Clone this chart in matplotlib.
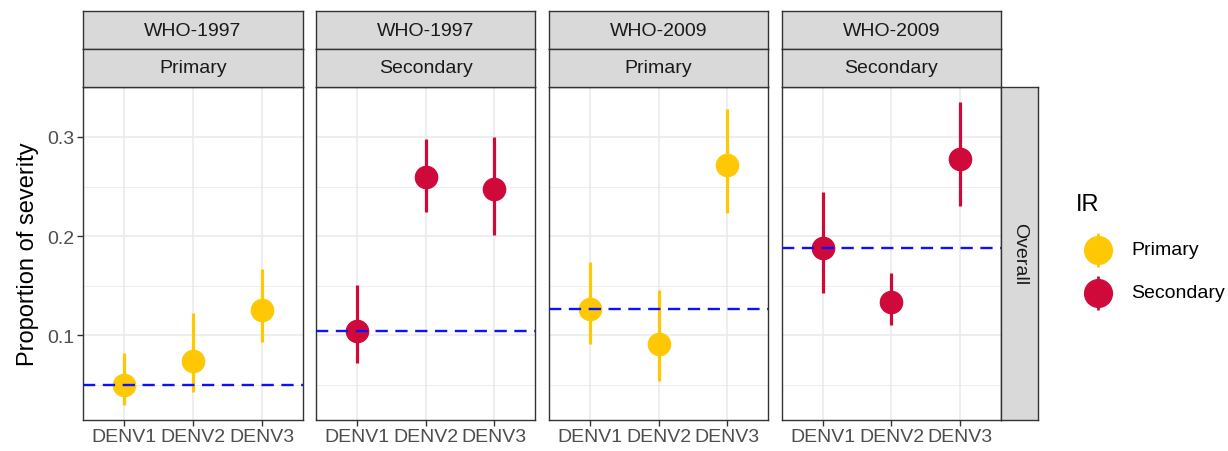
import matplotlib
matplotlib.use("Agg")
import matplotlib.pyplot as plt
import numpy as np

# ---------------- data ----------------
serotypes = ["DENV1", "DENV2", "DENV3"]
panel_definition = ["WHO-1997", "WHO-1997", "WHO-2009", "WHO-2009"]
panel_ir = ["Primary", "Secondary", "Primary", "Secondary"]
row_label = "Overall"

est_1997_primary = [0.050, 0.074, 0.126]
lo_1997_primary = [0.030, 0.043, 0.093]
hi_1997_primary = [0.082, 0.123, 0.167]

est_1997_secondary = [0.104, 0.260, 0.247]
lo_1997_secondary = [0.072, 0.224, 0.201]
hi_1997_secondary = [0.151, 0.298, 0.300]

est_2009_primary = [0.127, 0.091, 0.272]
lo_2009_primary = [0.091, 0.054, 0.223]
hi_2009_primary = [0.174, 0.146, 0.328]

est_2009_secondary = [0.188, 0.134, 0.278]
lo_2009_secondary = [0.143, 0.110, 0.230]
hi_2009_secondary = [0.244, 0.163, 0.335]

overall_proportion = [0.050, 0.104, 0.127, 0.188]

y_ticks = [0.1, 0.2, 0.3]
y_tick_labels = ["0.1", "0.2", "0.3"]
y_minor = [0.05, 0.15, 0.25]
y_label = "Proportion of severity"
legend_title = "IR"
legend_levels = ["Primary", "Secondary"]

# ---------------- style ----------------
colors = {"Primary": "#FFC805", "Secondary": "#CF0A3A"}
FONT = ["Liberation Sans", "DejaVu Sans"]
plt.rcParams["font.family"] = FONT
TICK_FS = 14
TITLE_FS = 17
grid_c = "#EBEBEB"
border_c = "#333333"

W, H = 1228, 452
fig = plt.figure(figsize=(W / 100, H / 100), dpi=100)


def fax(l, t, r, b):
    return [l / W, 1 - b / H, (r - l) / W, (b - t) / H]


panels_px = [(83, 303), (316, 535), (549, 768), (782, 1001)]
p_top, p_bot = 88, 421
strip_top, strip_mid = 12, 50

est_all = [est_1997_primary, est_1997_secondary, est_2009_primary, est_2009_secondary]
lo_all = [lo_1997_primary, lo_1997_secondary, lo_2009_primary, lo_2009_secondary]
hi_all = [hi_1997_primary, hi_1997_secondary, hi_2009_primary, hi_2009_secondary]

all_vals = np.concatenate([np.array(lo_all).ravel(), np.array(hi_all).ravel()])
rng = all_vals.max() - all_vals.min()
ylim = (all_vals.min() - 0.05 * rng, all_vals.max() + 0.05 * rng)

x = np.arange(1, len(serotypes) + 1)

for i, (l, r) in enumerate(panels_px):
    ax = fig.add_axes(fax(l, p_top, r, p_bot))
    ax.set_xlim(0.4, len(serotypes) + 0.6)
    ax.set_ylim(*ylim)
    ax.set_facecolor("white")
    for yv in y_minor:
        ax.axhline(yv, color=grid_c, lw=0.6, zorder=0)
    for yv in y_ticks:
        ax.axhline(yv, color=grid_c, lw=1.2, zorder=0)
    for xv in x:
        ax.axvline(xv, color=grid_c, lw=1.2, zorder=0)
    c = colors[panel_ir[i]]
    est = np.array(est_all[i]); lo = np.array(lo_all[i]); hi = np.array(hi_all[i])
    ax.vlines(x, lo, hi, color=c, lw=2.3, zorder=2)
    ax.plot(x, est, "o", color=c, ms=16, mec=c, zorder=3)
    ax.axhline(overall_proportion[i], color="#1010FF", lw=1.7, dashes=(5.2, 3.2), zorder=4)
    ax.set_xticks(x)
    ax.set_xticklabels(serotypes, fontsize=TICK_FS, color="#4D4D4D")
    ax.set_yticks(y_ticks)
    ax.tick_params(axis="both", color=border_c, width=1.0, length=4, pad=2)
    if i == 0:
        ax.set_yticklabels(y_tick_labels, fontsize=TICK_FS, color="#4D4D4D")
        ax.set_ylabel(y_label, fontsize=TITLE_FS, color="black", labelpad=6)
    else:
        ax.set_yticklabels([])
        ax.tick_params(axis="y", length=0)
    for s in ax.spines.values():
        s.set_color(border_c)
        s.set_linewidth(1.0)

    # strips
    for j, (t, b, label) in enumerate([(strip_top, strip_mid, panel_definition[i]),
                                       (strip_mid, p_top, panel_ir[i])]):
        sax = fig.add_axes(fax(l, t, r, b))
        sax.set_facecolor("#D9D9D9")
        sax.set_xticks([]); sax.set_yticks([])
        for s in sax.spines.values():
            s.set_color(border_c)
            s.set_linewidth(1.0)
        sax.text(0.5, 0.5, label, ha="center", va="center", fontsize=TICK_FS,
                 color="#1A1A1A", transform=sax.transAxes)

# right strip
rax = fig.add_axes(fax(1001, p_top, 1038, p_bot))
rax.set_facecolor("#D9D9D9")
rax.set_xticks([]); rax.set_yticks([])
for s in rax.spines.values():
    s.set_color(border_c)
    s.set_linewidth(1.0)
rax.text(0.5, 0.5, row_label, ha="center", va="center", rotation=-90,
         fontsize=TICK_FS, color="#1A1A1A", transform=rax.transAxes)

# legend (manual, pixel coords)
lax = fig.add_axes(fax(1060, 190, 1228, 320))
lax.set_xlim(1060, 1228)
lax.set_ylim(320, 190)
lax.axis("off")
lax.text(1076, 205, legend_title, fontsize=TITLE_FS, ha="left", va="center", color="black")
for k, lev in enumerate(legend_levels):
    yc = 251 + k * 43
    c = colors[lev]
    lax.vlines(1098, yc - 17, yc + 17, color=c, lw=2.0)
    lax.plot(1098, yc, "o", color=c, ms=20, mec=c)
    lax.text(1131, yc, lev, fontsize=TICK_FS, ha="left", va="center", color="black")

fig.savefig("out.png", dpi=100, facecolor="white")
